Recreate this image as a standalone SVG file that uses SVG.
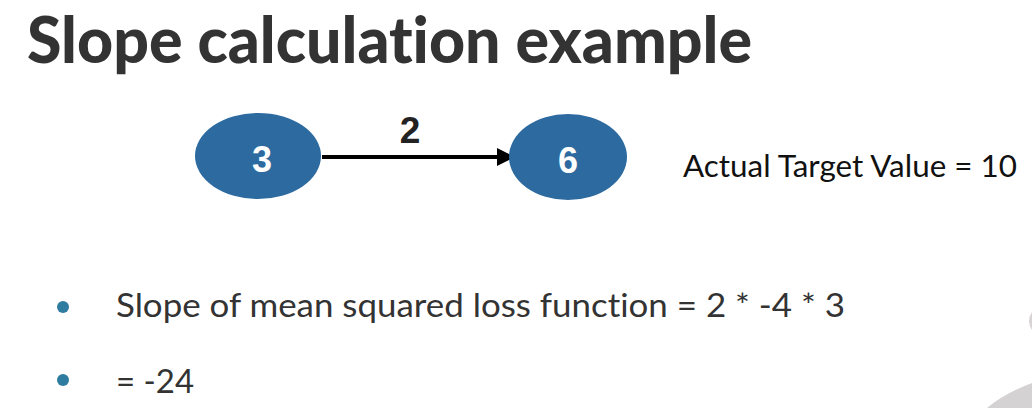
<svg xmlns="http://www.w3.org/2000/svg" width="1032" height="408" viewBox="0 0 1032 408">
<style>
text{font-variant-ligatures:none}
.title{font-family:Lato,"Open Sans",sans-serif;font-weight:900;font-size:65px;fill:#333}
.node{fill:#2c6aa0}
.nlab{font-family:"Liberation Sans",Arial,sans-serif;font-weight:bold;font-size:36px;fill:#fff;text-anchor:middle}
.elab{font-family:"Liberation Sans",Arial,sans-serif;font-weight:bold;font-size:37px;fill:#222;text-anchor:middle}
.body{font-family:Lato,"Open Sans",sans-serif;font-size:30px;fill:#111}
.bullet{font-family:Lato,"Open Sans",sans-serif;font-size:33px;fill:#333}
.dot{fill:#2e7ca0}
</style>
<defs>
<marker id="ah" viewBox="0 0 10 10" refX="10" refY="5" markerWidth="5" markerHeight="4.5" orient="auto" markerUnits="strokeWidth">
<path d="M0,0 L10,5 L0,10 z" fill="#000"/>
</marker>
</defs>
<rect width="1032" height="408" fill="#fff"/>
<path d="M987,408 Q1005,393 1032,383 L1032,408 Z" fill="#d4d2d2"/>
<path d="M1032,312 Q1026,321 1032,330 Z" fill="#d8d4d4"/>
<text class="title" x="27" y="63" textLength="725" lengthAdjust="spacingAndGlyphs">Slope calculation example</text>
<g id="connectors">
<line x1="322" y1="157" x2="515" y2="157" stroke="#000" stroke-width="4" marker-end="url(#ah)"/>
<text class="elab" x="410" y="143">2</text>
</g>
<g id="node-3">
<ellipse class="node" cx="258" cy="156" rx="63" ry="43"/>
<text class="nlab" x="262" y="172">3</text>
</g>
<g id="node-6">
<ellipse class="node" cx="568" cy="157" rx="59" ry="43"/>
<text class="nlab" x="568" y="173">6</text>
</g>
<text class="body" x="683" y="177" textLength="334" lengthAdjust="spacingAndGlyphs">Actual Target Value = 10</text>
<circle class="dot" cx="63" cy="307" r="6"/>
<text class="bullet" x="116" y="317" textLength="729" lengthAdjust="spacingAndGlyphs">Slope of mean squared loss function = 2 * -4 * 3</text>
<circle class="dot" cx="63" cy="380" r="6"/>
<text class="bullet" x="116" y="393" textLength="78" lengthAdjust="spacingAndGlyphs">= -24</text>
</svg>
